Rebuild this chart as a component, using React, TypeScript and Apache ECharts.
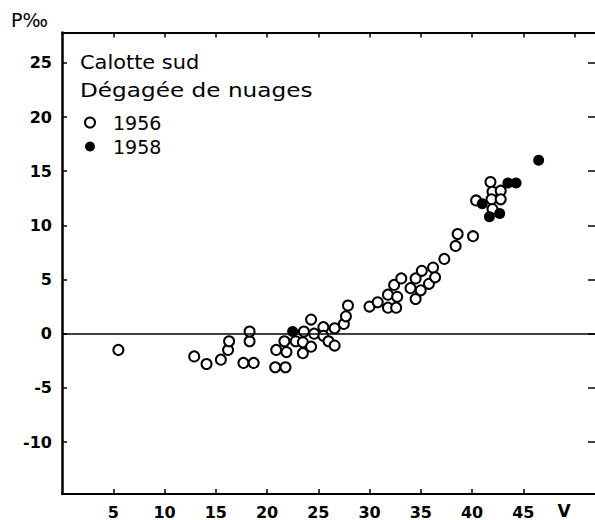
import React, { useEffect, useRef } from "react";
import * as echarts from "echarts";

// Tick values
const xTicks = [5, 10, 15, 20, 25, 30, 35, 40, 45];
const yTicks = [-10, -5, 0, 5, 10, 15, 20, 25];
const topTicks = [5, 10, 15, 20, 25, 30, 35, 40, 45, 50];
const rightTicks = [-10, -5, 0, 5, 10, 15, 20, 25];

// Series 1956 (open circles): V and P‰
const v1956 = [
  5.5, 12.9, 14.1, 15.5, 16.2, 16.3, 17.7, 18.7, 18.3, 18.3,
  20.8, 21.8, 20.9, 21.7, 21.9, 22.8, 23.6, 23.5, 23.5, 24.3,
  24.3, 24.6, 25.5, 25.5, 26.0, 26.6, 26.6, 27.5, 27.7, 27.9,
  30.0, 30.8, 31.8, 31.8, 32.6, 32.7, 32.4, 33.1, 34.0, 34.5,
  34.5, 35.0, 35.1, 35.8, 36.2, 36.4, 37.3, 38.4, 38.6, 40.1,
  40.4, 41.8, 42.0, 42.8, 41.9, 42.8, 42.0,
];
const p1956 = [
  -1.5, -2.1, -2.8, -2.4, -1.5, -0.7, -2.7, -2.7, -0.7, 0.2,
  -3.1, -3.1, -1.5, -0.7, -1.7, -0.7, 0.2, -0.8, -1.8, -1.2,
  1.3, 0.0, 0.6, -0.2, -0.7, -1.1, 0.5, 0.9, 1.6, 2.6,
  2.5, 2.9, 3.6, 2.4, 2.4, 3.4, 4.5, 5.1, 4.2, 5.1,
  3.2, 4.0, 5.8, 4.6, 6.1, 5.2, 6.9, 8.1, 9.2, 9.0,
  12.3, 14.0, 13.1, 13.2, 12.4, 12.4, 11.5,
];

// Series 1958 (filled circles)
const v1958 = [22.5, 41.0, 41.7, 42.7, 43.5, 44.3, 46.5];
const p1958 = [0.2, 12.0, 10.8, 11.1, 13.9, 13.9, 16.0];

const seriesNames = ["1956", "1958"];
const titleLines = ["Calotte sud", "Dégagée de nuages"];
const yUnit = "P‰";
const xUnit = "V";

const FONT = "DejaVu Sans";

export default function App() {
  const ref = useRef<HTMLDivElement>(null);
  useEffect(() => {
    document.body.style.margin = "0";
    if (!ref.current) return;
    const chart = echarts.init(ref.current, null, { renderer: "svg" });
    const axisLineStyle = { color: "#000", width: 2 };
    const tickStyle = { color: "#000", width: 1.5 };
    const labelStyle = { fontSize: 16, color: "#000", fontFamily: FONT, fontWeight: "bold" };
    chart.setOption({
      animation: false,
      backgroundColor: "#fff",
      grid: { left: 62, right: 0, top: 32.5, bottom: 26 },
      xAxis: [
        {
          type: "value",
          min: 0,
          max: 52,
          position: "bottom",
          axisLine: { show: true, onZero: false, lineStyle: axisLineStyle },
          axisTick: { show: true, inside: true, length: 5, customValues: xTicks, lineStyle: tickStyle },
          axisLabel: { customValues: xTicks, ...labelStyle, margin: 10 },
          splitLine: { show: false },
        },
        {
          type: "value",
          min: 0,
          max: 52,
          position: "top",
          axisLine: { show: true, onZero: false, lineStyle: axisLineStyle },
          axisTick: { show: true, inside: true, length: 5, customValues: topTicks, lineStyle: tickStyle },
          axisLabel: { show: false },
          splitLine: { show: false },
        },
      ],
      yAxis: [
        {
          type: "value",
          min: -14.8,
          max: 27.8,
          position: "left",
          axisLine: { show: true, onZero: false, lineStyle: { color: "#000", width: 2.5 } },
          axisTick: { show: true, inside: true, length: 5, customValues: yTicks, lineStyle: tickStyle },
          axisLabel: {
            customValues: yTicks,
            ...labelStyle,
            margin: 10,
            padding: [0, 0, 12, 0],
          },
          splitLine: { show: false },
        },
        {
          type: "value",
          min: -14.8,
          max: 27.8,
          position: "right",
          axisLine: { show: false, onZero: false },
          axisTick: { show: true, inside: true, length: 7, customValues: rightTicks, lineStyle: tickStyle },
          axisLabel: { show: false },
          splitLine: { show: false },
        },
      ],
      legend: {
        data: seriesNames,
        orient: "vertical",
        left: 79,
        top: 108,
        itemWidth: 10,
        itemHeight: 10,
        itemGap: 5,
        textStyle: { fontSize: 19, fontFamily: FONT, color: "#000", padding: [0, 0, 0, 13] },
      },
      graphic: [
        {
          type: "text",
          x: 11,
          y: 20,
          style: { text: yUnit, fontSize: 19, fontFamily: FONT, fill: "#000", verticalAlign: "middle" },
        },
        {
          type: "text",
          x: 80,
          y: 62,
          scaleX: 1.1,
          style: { text: titleLines[0], fontSize: 19, fontFamily: FONT, fill: "#000", verticalAlign: "middle" },
        },
        {
          type: "text",
          x: 80,
          y: 90,
          scaleX: 1.22,
          style: { text: titleLines[1], fontSize: 19, fontFamily: FONT, fill: "#000", verticalAlign: "middle" },
        },
        {
          type: "text",
          x: 564,
          y: 511,
          style: { text: xUnit, fontSize: 17, fontFamily: FONT, fontWeight: "bold", fill: "#000", align: "center", verticalAlign: "middle" },
        },
      ],
      series: [
        {
          name: seriesNames[0],
          type: "scatter",
          xAxisIndex: 0,
          yAxisIndex: 0,
          symbol: "circle",
          symbolSize: 10,
          data: v1956.map((v, i) => [v, p1956[i]]),
          itemStyle: { color: "#fff", borderColor: "#000", borderWidth: 2, opacity: 1 },
          markLine: {
            silent: true,
            symbol: ["none", "none"],
            label: { show: false },
            lineStyle: { color: "#000", width: 1.6, type: "solid" },
            data: [{ yAxis: 0 }],
          },
          z: 3,
        },
        {
          name: seriesNames[1],
          type: "scatter",
          xAxisIndex: 0,
          yAxisIndex: 0,
          symbol: "circle",
          symbolSize: 11,
          data: v1958.map((v, i) => [v, p1958[i]]),
          itemStyle: { color: "#000", opacity: 1 },
          z: 4,
        },
      ],
    });
    return () => chart.dispose();
  }, []);
  return <div ref={ref} style={{ width: 595, height: 520 }} />;
}
